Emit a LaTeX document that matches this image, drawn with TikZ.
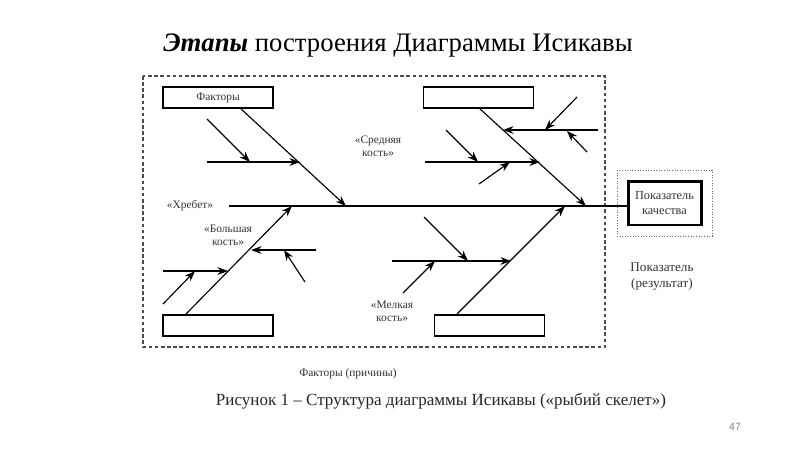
\documentclass[tikz,border=0pt]{standalone}
\usepackage{fontspec}
\setmainfont{Liberation Serif}
\newfontfamily\numfont{Liberation Sans}
\usetikzlibrary{arrows.meta}

\begin{document}
\begin{tikzpicture}[x=0.02cm,y=-0.02cm,
	bone/.style={line width=0.65pt,-{Stealth[length=6pt,width=4.4pt]}},
	factor/.style={draw,line width=0.6pt,minimum width=2.2cm,minimum height=0.42cm,inner sep=0pt},
	lbl/.style={font=\fontsize{6.5}{7.5}\selectfont,align=center,text=black!80}]
	\useasboundingbox (0,0) rectangle (800,450);
	% title and frames
	\node (title) at (398,45) {\fontsize{15.2}{18}\selectfont\textbf{\textit{Этапы}} построения Диаграммы Исикавы};
	\draw[black!70,line width=0.6pt,dash pattern=on 2pt off 1.5pt] (143,76) rectangle (605,347);
	\draw[black!60,line width=0.5pt,densely dotted] (617,170) rectangle (712,236);
	\node[draw,line width=1.7pt,minimum width=1.46cm,minimum height=0.88cm,lbl,font=\fontsize{7}{8.5}\selectfont] (res) at (664.5,203) {Показатель\\качества};
	% boxes of factors
	\node[factor,lbl] (tl) at (218,97.5) {Факторы};
	\node[factor] (tr) at (478.5,97.5) {};
	\node[factor] (bl) at (218,325.5) {};
	\node[factor] (br) at (489.5,325.5) {};
	% spine
	\coordinate (tail) at (229,206);
	\coordinate (head) at (628,206);
	\draw[line width=1.7pt] (tail) -- (head);
	\coordinate (s1) at (346,206);
	\coordinate (s2) at (586,206);
	\coordinate (s3) at (292,206);
	\coordinate (s4) at (565,206);
	% big bones
	\draw[bone] (240,108) -- (s1);
	\draw[bone] (479,108) -- (s2);
	\draw[bone] (186,314) -- (s3);
	\draw[bone] (457,314) -- (s4);
	% middle bones
	\draw[bone] (207,162) -- (300,162);
	\draw[bone] (598,130) -- (503,130);
	\draw[bone] (425,162) -- (540,162);
	\draw[bone] (316,250) -- (251,250);
	\draw[bone] (163,271) -- (228,271);
	\draw[bone] (392,261) -- (511,261);
	% small bones
	\draw[bone] (207,119) -- (250,162);
	\draw[bone] (577,97) -- (545,130);
	\draw[bone] (587,152) -- (567,131);
	\draw[bone] (446,130) -- (478,162);
	\draw[bone] (479,184) -- (510,162);
	\draw[bone] (305,282) -- (284,250);
	\draw[bone] (163,304) -- (195,271);
	\draw[bone] (424,217) -- (468,261);
	\draw[bone] (403,293) -- (435,261);
	% labels
	\node[lbl] (spine) at (190,206) {«Хребет»};
	\node[lbl] (mid) at (378,146) {«Средняя\\кость»};
	\node[lbl] (big) at (228,235) {«Большая\\кость»};
	\node[lbl] (small) at (392,311) {«Мелкая\\кость»};
	\node[lbl,font=\fontsize{7.5}{9}\selectfont] (result) at (662,277) {Показатель\\(результат)};
	\node[lbl] (causes) at (348,374) {Факторы (причины)};
	\node[text=black!85] (caption) at (441,401) {\fontsize{9.7}{12}\selectfont Рисунок 1 – Структура диаграммы Исикавы («рыбий скелет»)};
	\node[text=black!50,font=\numfont\fontsize{6}{7}\selectfont] (page) at (735,427) {47};
\end{tikzpicture}
\end{document}
